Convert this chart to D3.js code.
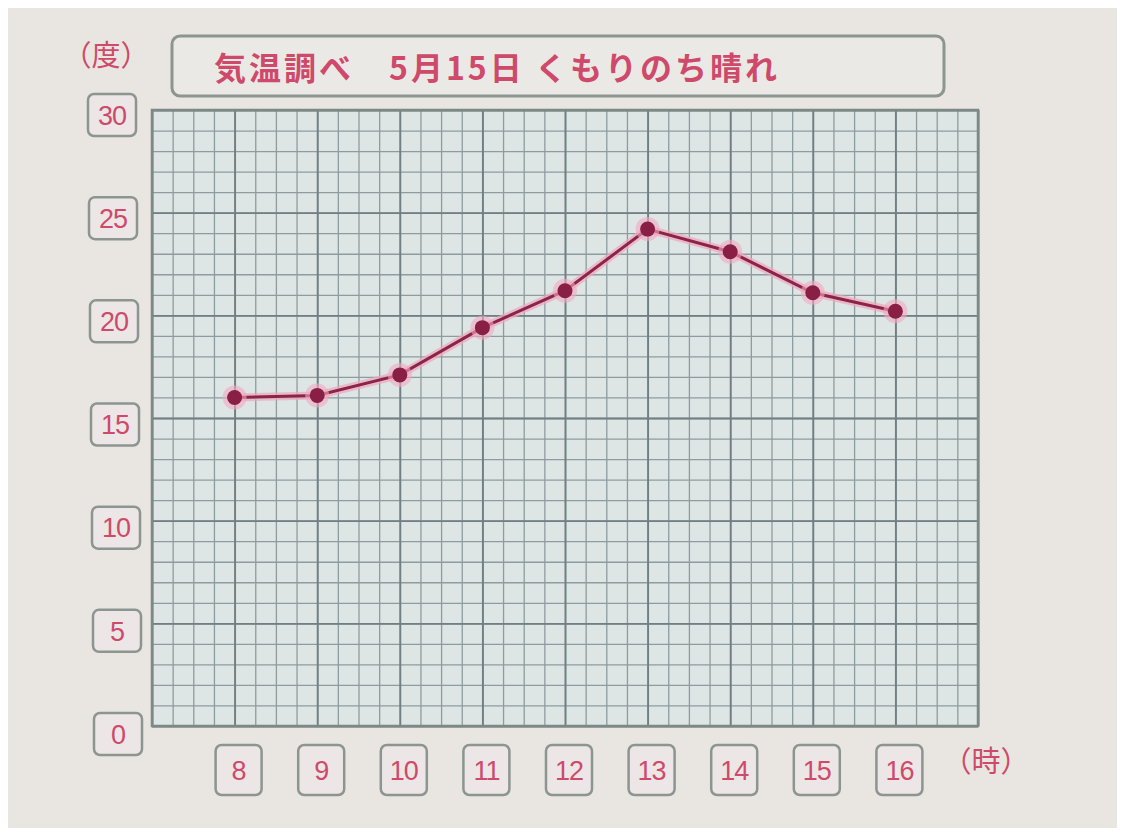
<!DOCTYPE html>
<html>
<head>
<meta charset="utf-8">
<script src="https://cdn.jsdelivr.net/npm/d3@7"></script>
<style>
  body { margin: 0; background: #fff; }
  svg { display: block; }
</style>
</head>
<body>
<script>
// data
var hours = [8, 9, 10, 11, 12, 13, 14, 15, 16];
var temps = [16.0, 16.1, 17.1, 19.4, 21.2, 24.2, 23.1, 21.1, 20.2];
var yTicks = [0, 5, 10, 15, 20, 25, 30];
var title = '気温調べ　5月15日 くもりのち晴れ';
var yUnit = '（度）';
var xUnit = '（時）';

var svgWidth = 1125;
var svgHeight = 834;
var gridLeft = 152, gridRight = 978, gridTop = 110, gridBottom = 726;

var pink = '#cf4a6a';
var boxStroke = '#8c9590';

var svg = d3.select('body').append('svg')
  .attr('width', svgWidth)
  .attr('height', svgHeight);

// paper
svg.append('rect')
  .attr('x', 8).attr('y', 8)
  .attr('width', svgWidth - 16).attr('height', svgHeight - 14)
  .attr('fill', '#e9e6e1');

var xScale = d3.scaleLinear().domain([7, 17]).range([gridLeft, gridRight]);
var yScale = d3.scaleLinear().domain([0, 30]).range([gridBottom, gridTop]);

// grid background
svg.append('rect')
  .attr('x', gridLeft).attr('y', gridTop)
  .attr('width', gridRight - gridLeft).attr('height', gridBottom - gridTop)
  .attr('fill', '#dee5e5');

// minor grid lines
var xMinor = d3.range(7, 17.001, 0.25);
var yMinor = d3.range(0, 30.001, 1);

svg.append('g')
  .attr('transform', 'translate(0,' + gridBottom + ')')
  .call(d3.axisBottom(xScale).tickValues(xMinor).tickSize(-(gridBottom - gridTop)).tickFormat(''))
  .call(function(g) {
    g.select('.domain').remove();
    g.selectAll('line').attr('stroke', '#8e9c9f').attr('stroke-width', 1.3);
  });

svg.append('g')
  .attr('transform', 'translate(' + gridLeft + ',0)')
  .call(d3.axisLeft(yScale).tickValues(yMinor).tickSize(-(gridRight - gridLeft)).tickFormat(''))
  .call(function(g) {
    g.select('.domain').remove();
    g.selectAll('line').attr('stroke', '#8e9c9f').attr('stroke-width', 1.3);
  });

// major grid lines (every hour, every 5 degrees)
svg.append('g')
  .attr('transform', 'translate(0,' + gridBottom + ')')
  .call(d3.axisBottom(xScale).tickValues(d3.range(7, 18)).tickSize(-(gridBottom - gridTop)).tickFormat(''))
  .call(function(g) {
    g.select('.domain').remove();
    g.selectAll('line').attr('stroke', '#717f84').attr('stroke-width', 1.9);
  });

svg.append('g')
  .attr('transform', 'translate(' + gridLeft + ',0)')
  .call(d3.axisLeft(yScale).tickValues(yTicks).tickSize(-(gridRight - gridLeft)).tickFormat(''))
  .call(function(g) {
    g.select('.domain').remove();
    g.selectAll('line').attr('stroke', '#717f84').attr('stroke-width', 1.9);
  });

svg.append('rect')
  .attr('x', gridLeft).attr('y', gridTop)
  .attr('width', gridRight - gridLeft).attr('height', gridBottom - gridTop)
  .attr('fill', 'none')
  .attr('stroke', '#7d8987')
  .attr('stroke-width', 2.5);

// title box
svg.append('rect')
  .attr('x', 172).attr('y', 36)
  .attr('width', 772).attr('height', 60)
  .attr('rx', 8)
  .attr('fill', '#ebe9e6')
  .attr('stroke', boxStroke)
  .attr('stroke-width', 3);

svg.append('text')
  .attr('x', 214).attr('y', 80)
  .attr('font-family', '"Noto Sans CJK JP", sans-serif')
  .attr('font-size', 32)
  .attr('font-weight', 'bold')
  .attr('letter-spacing', 3)
  .attr('fill', pink)
  .text(title);

// unit labels
svg.append('text')
  .attr('x', 106).attr('y', 66)
  .attr('text-anchor', 'middle')
  .attr('font-family', '"Noto Sans CJK JP", sans-serif')
  .attr('font-size', 29)
  .attr('fill', pink)
  .text(yUnit);

svg.append('text')
  .attr('x', 986).attr('y', 772)
  .attr('text-anchor', 'middle')
  .attr('font-family', '"Noto Sans CJK JP", sans-serif')
  .attr('font-size', 29)
  .attr('fill', pink)
  .text(xUnit);

// y tick boxes
var yLab = svg.selectAll('.ylab')
  .data(yTicks)
  .enter()
  .append('g')
    .attr('class', 'ylab')
    .attr('transform', function(d) {
      return 'translate(' + (112 + (30 - d) * 0.2) + ',' + (yScale(d) + 5 + (30 - d) * 0.1) + ')';
    });

yLab.append('rect')
  .attr('x', -24).attr('y', -21)
  .attr('width', 48).attr('height', 42)
  .attr('rx', 6)
  .attr('fill', '#ece6e6')
  .attr('stroke', boxStroke)
  .attr('stroke-width', 2.5);

yLab.append('text')
  .attr('text-anchor', 'middle')
  .attr('dy', '0.36em')
  .attr('font-family', '"Liberation Sans", Arial, sans-serif')
  .attr('font-size', 27)
  .attr('letter-spacing', -1)
  .attr('fill', pink)
  .text(function(d) { return d; });

// x tick boxes
var xLab = svg.selectAll('.xlab')
  .data(hours)
  .enter()
  .append('g')
    .attr('class', 'xlab')
    .attr('transform', function(d) {
      return 'translate(' + (xScale(d) + 4) + ',770)';
    });

xLab.append('rect')
  .attr('x', -23).attr('y', -25)
  .attr('width', 46).attr('height', 50)
  .attr('rx', 6)
  .attr('fill', '#ece6e6')
  .attr('stroke', boxStroke)
  .attr('stroke-width', 2.5);

xLab.append('text')
  .attr('text-anchor', 'middle')
  .attr('dy', '0.36em')
  .attr('font-family', '"Liberation Sans", Arial, sans-serif')
  .attr('font-size', 27)
  .attr('letter-spacing', -1)
  .attr('fill', pink)
  .text(function(d) { return d; });

// line and points
var lineData = hours.map(function(h, i) { return {h: h, t: temps[i]}; });

var lineFunction = d3.line()
  .x(function(d) { return xScale(d.h); })
  .y(function(d) { return yScale(d.t); });

svg.append('path')
  .attr('d', lineFunction(lineData))
  .attr('fill', 'none')
  .attr('stroke', '#f0a6bd')
  .attr('stroke-width', 8)
  .attr('opacity', 0.7);

svg.append('path')
  .attr('d', lineFunction(lineData))
  .attr('fill', 'none')
  .attr('stroke', '#8c2448')
  .attr('stroke-width', 3);

svg.selectAll('.halo')
  .data(lineData)
  .enter()
  .append('circle')
    .attr('cx', function(d) { return xScale(d.h); })
    .attr('cy', function(d) { return yScale(d.t); })
    .attr('r', 12)
    .attr('fill', '#f2a9c0')
    .attr('opacity', 0.6);

svg.selectAll('.dot')
  .data(lineData)
  .enter()
  .append('circle')
    .attr('cx', function(d) { return xScale(d.h); })
    .attr('cy', function(d) { return yScale(d.t); })
    .attr('r', 7.5)
    .attr('fill', '#8a1f45');
</script>
</body>
</html>
